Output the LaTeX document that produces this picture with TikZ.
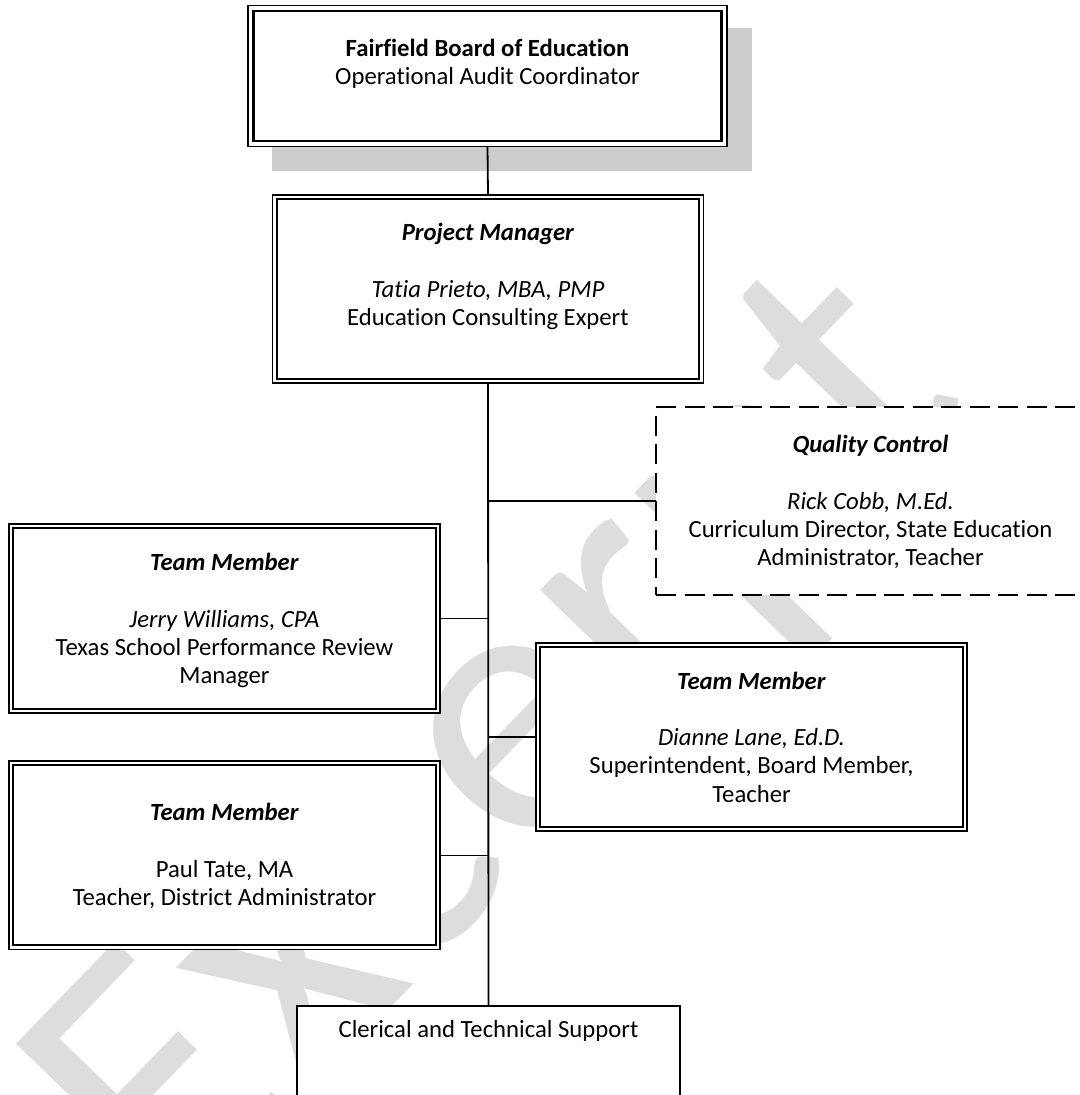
\documentclass[tikz,border=0pt]{standalone}
\usepackage{fontspec}
\setmainfont{Carlito}[Ligatures=NoCommon]
\definecolor{wmgray}{HTML}{DDDDDD}
\definecolor{shadowgray}{HTML}{CCCCCC}
\newcommand{\boxtext}[4]{\begin{minipage}[t][#2][t]{#1}\centering\fontsize{24.7}{28.2}\selectfont\rule{0pt}{#3}#4\end{minipage}}
\begin{document}
\begin{tikzpicture}[x=1pt,y=-1pt,
  every node/.style={inner sep=0pt, outer sep=0pt},
  box/.style={draw, line width=1.3pt, fill=white, anchor=north west},
  topbox/.style={draw, line width=1.5pt, fill=white, anchor=north west},
  dbox/.style={draw, line width=1.6pt, dash pattern=on 20pt off 8.5pt, fill=white, anchor=north west},
  sbox/.style={draw, line width=1.3pt, fill=white, anchor=north west},
  trunk/.style={line width=1.8pt},
  branch/.style={line width=1.3pt},
  innerline/.style={line width=1.7pt},
  topinner/.style={line width=2.6pt},
]
\useasboundingbox (0,0) rectangle (1079,1095);
\clip (0,0) rectangle (1079,1095);
% watermark
\node[text=wmgray, font=\fontsize{381}{390}\selectfont, rotate=46, anchor=base west] (wm) at (173,1233) {Excerpt};
% shadow of top box
\fill[shadowgray] (272,28) rectangle (752,171);
% boxes
\node[topbox] (top) at (248,5.5) {\boxtext{479pt}{141pt}{50.5pt}{\textbf{Fairfield Board of Education}\\ Operational Audit Coordinator}};
\node[box] (pm) at (272.5,195) {\boxtext{431pt}{188pt}{45.5pt}{\textbf{\textit{Project Manager}}\\[28.5pt] \textit{Tatia Prieto, MBA, PMP}\\ Education Consulting Expert}};
\node[dbox] (qc) at (656,407) {\boxtext{429pt}{188pt}{45.5pt}{\textbf{\textit{Quality Control}}\\[28.5pt] \textit{Rick Cobb, M.Ed.}\\ Curriculum Director, State Education\\ Administrator, Teacher}};
\node[box] (jerry) at (9,524) {\boxtext{431pt}{189pt}{46.5pt}{\textbf{\textit{Team Member}}\\[28.5pt] \textit{Jerry Williams, CPA}\\ Texas School Performance Review\\ Manager}};
\node[box] (dianne) at (536,643) {\boxtext{431pt}{188pt}{46pt}{\textbf{\textit{Team Member}}\\[28.5pt] \textit{Dianne Lane, Ed.D.}\\ Superintendent, Board Member,\\ Teacher}};
\node[box] (paul) at (9,761) {\boxtext{431pt}{188.5pt}{59.5pt}{\textbf{\textit{Team Member}}\\[28.5pt] Paul Tate, MA\\ Teacher, District Administrator}};
\node[sbox] (cler) at (297,1006) {\boxtext{383pt}{144pt}{31.5pt}{Clerical and Technical Support}};
% inner lines of double borders
\draw[topinner] ([shift={(5.5pt,-5.5pt)}]top.north west) rectangle ([shift={(-5.5pt,5.5pt)}]top.south east);
\foreach \n in {pm,jerry,dianne,paul}
  \draw[innerline] ([shift={(4.3pt,-4.3pt)}]\n.north west) rectangle ([shift={(-4.3pt,4.3pt)}]\n.south east);
% connectors
\draw[trunk] (top.south) -- (pm.north);
\draw[trunk] (pm.south) -- (cler.north);
\draw[branch] (qc.west -| pm.south) -- (qc.west);
\draw[branch] (jerry.east) -- (jerry.east -| pm.south);
\draw[branch] (dianne.west -| pm.south) -- (dianne.west);
\draw[branch] (paul.east) -- (paul.east -| pm.south);
\end{tikzpicture}
\end{document}
